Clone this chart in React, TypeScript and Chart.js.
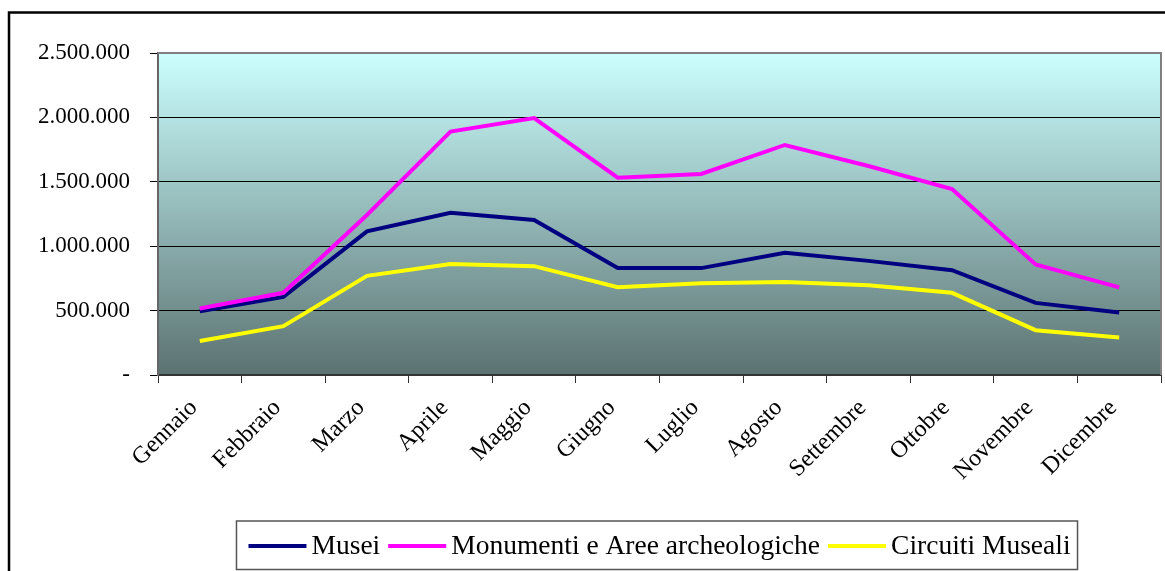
import React, { useEffect, useRef } from "react";
import { Chart, registerables } from "chart.js";

Chart.register(...registerables);

const months = [
  "Gennaio", "Febbraio", "Marzo", "Aprile", "Maggio", "Giugno",
  "Luglio", "Agosto", "Settembre", "Ottobre", "Novembre", "Dicembre",
];
const musei = [495000, 606000, 1115000, 1260000, 1203000, 830000, 830000, 949000, 886000, 814000, 560000, 485000];
const monumenti = [516000, 638000, 1242000, 1890000, 1995000, 1532000, 1561000, 1786000, 1623000, 1444000, 858000, 680000];
const circuiti = [264000, 379000, 770000, 861000, 845000, 682000, 713000, 723000, 697000, 638000, 348000, 291000];
const seriesNames = ["Musei", "Monumenti e Aree archeologiche", "Circuiti Museali"];
const seriesColors = ["#000080", "#FF00FF", "#FFFF00"];
const yMax = 2500000;
const yStep = 500000;

const FONT = '"Liberation Serif", "Times New Roman", serif';

function fmt(v: number): string {
  if (v === 0) return "-";
  return Math.round(v).toString().replace(/\B(?=(\d{3})+(?!\d))/g, ".");
}

const bgPlugin = {
  id: "bgPlugin",
  beforeDraw(chart: any) {
    const { ctx, chartArea } = chart;
    ctx.save();
    ctx.fillStyle = "#ffffff";
    ctx.fillRect(0, 0, chart.width, chart.height);
    ctx.strokeStyle = "#000";
    ctx.lineWidth = 2.5;
    ctx.beginPath();
    ctx.moveTo(9, chart.height + 5);
    ctx.lineTo(9, 12.5);
    ctx.lineTo(chart.width + 5, 12.5);
    ctx.stroke();
    const g = ctx.createLinearGradient(0, chartArea.top, 0, chartArea.bottom);
    g.addColorStop(0, "#CCFFFF");
    g.addColorStop(1, "#5B7271");
    ctx.fillStyle = g;
    ctx.fillRect(chartArea.left, chartArea.top, chartArea.right - chartArea.left, chartArea.bottom - chartArea.top);
    ctx.restore();
  },
  afterDatasetsDraw(chart: any) {
    const { ctx, chartArea } = chart;
    ctx.save();
    ctx.strokeStyle = "#808080";
    ctx.lineWidth = 2;
    ctx.beginPath();
    ctx.moveTo(chartArea.left, chartArea.top);
    ctx.lineTo(chartArea.right, chartArea.top);
    ctx.lineTo(chartArea.right, chartArea.bottom);
    ctx.stroke();
    ctx.restore();
  },
};

const legendPlugin = {
  id: "boxLegend",
  afterDraw(chart: any) {
    const { ctx, chartArea } = chart;
    const datasets = chart.data.datasets;
    ctx.save();
    ctx.font = `27.5px ${FONT}`;
    ctx.textBaseline = "middle";
    ctx.textAlign = "left";
    const lineLen = 58;
    const gapAfterLine = 5;
    const gapAfterText = 8;
    const items = datasets.map((d: any) => ({
      label: d.label,
      color: d.borderColor,
      w: ctx.measureText(d.label).width,
    }));
    let total = 0;
    items.forEach((it: any, i: number) => {
      total += lineLen + gapAfterLine + it.w + (i < items.length - 1 ? gapAfterText : 0);
    });
    const cx = (chartArea.left + chartArea.right) / 2;
    let x = cx - total / 2;
    const boxL = x - 12;
    const boxR = x + total + 7;
    const boxT = 521;
    const boxB = 569.5;
    const midY = 546;
    ctx.fillStyle = "#fff";
    ctx.fillRect(boxL, boxT, boxR - boxL, boxB - boxT);
    ctx.strokeStyle = "#555";
    ctx.lineWidth = 1.5;
    ctx.strokeRect(boxL, boxT, boxR - boxL, boxB - boxT);
    items.forEach((it: any) => {
      ctx.strokeStyle = it.color;
      ctx.lineWidth = 4;
      ctx.beginPath();
      ctx.moveTo(x, midY);
      ctx.lineTo(x + lineLen, midY);
      ctx.stroke();
      x += lineLen + gapAfterLine;
      ctx.fillStyle = "#000";
      ctx.fillText(it.label, x, midY + 1);
      x += it.w + gapAfterText;
    });
    ctx.restore();
  },
};

export default function App() {
  const ref = useRef<HTMLCanvasElement>(null);
  useEffect(() => {
    if (!ref.current) return;
    const values = [musei, monumenti, circuiti];
    const chart = new Chart(ref.current, {
      type: "line",
      data: {
        labels: months,
        datasets: values.map((v, i) => ({
          label: seriesNames[i],
          data: v,
          borderColor: seriesColors[i],
          backgroundColor: seriesColors[i],
          borderWidth: 4,
          pointRadius: 0,
          tension: 0,
          fill: false,
          order: i === 0 ? 3 : i === 1 ? 2 : 1,
        })),
      },
      options: {
        responsive: false,
        animation: false,
        layout: { padding: { top: 53, right: 4, left: 0, bottom: 0 } },
        plugins: {
          legend: { display: false },
          tooltip: { enabled: false },
        },
        scales: {
          x: {
            offset: true,
            grid: {
              display: true,
              drawOnChartArea: false,
              drawTicks: true,
              tickLength: 8,
              color: "#333",
              offset: true,
            },
            border: { display: true, color: "#333", width: 2 },
            ticks: {
              autoSkip: false,
              maxRotation: 45,
              minRotation: 45,
              color: "#000",
              padding: 11,
              labelOffset: -6,
              font: { family: FONT, size: 24 },
            },
            afterFit(scale: any) {
              scale.height = 196;
            },
          },
          y: {
            min: 0,
            max: yMax,
            grid: {
              color: "#000",
              lineWidth: 1,
              drawTicks: true,
              tickLength: 8,
            },
            border: { display: true, color: "#666", width: 2 },
            ticks: {
              stepSize: yStep,
              color: "#000",
              padding: 20,
              font: { family: FONT, size: 23 },
              callback: (v: any) => fmt(Number(v)),
            },
            afterFit(scale: any) {
              scale.width = 158;
            },
          },
        },
      },
      plugins: [bgPlugin, legendPlugin],
    });
    return () => chart.destroy();
  }, []);
  return (
    <div style={{ position: "fixed", left: 0, top: 0, width: 1165, height: 571, background: "#fff" }}>
      <canvas ref={ref} width={1165} height={571} style={{ display: "block" }} />
    </div>
  );
}
